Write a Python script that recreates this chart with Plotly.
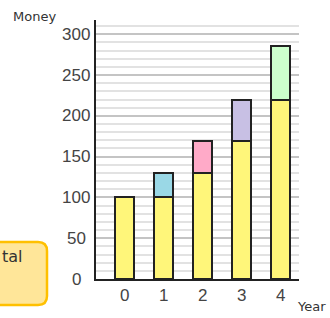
import plotly.graph_objects as go

years = [0, 1, 2, 3, 4]
principal = [100, 100, 130, 169, 219.7]
interest = [None, 30, 39, 50.7, 65.91]
interest_colors = ["#FFF67A", "#9AD8E6", "#FFAAC8", "#C8C0E4", "#CCFFCC"]
y_ticks = [0, 50, 100, 150, 200, 250, 300]

W, H = 330, 318
ML, MR, MT, MB = 96, 31, 20, 39
PW, PH = W - ML - MR, H - MT - MB

def px(x):
    return (x - ML) / PW

def py(y):
    return (H - MB - y) / PH

fig = go.Figure()
fig.add_trace(go.Bar(x=years, y=principal, marker=dict(color="#FFF67A", line=dict(color="#222", width=2)),
                     width=0.5, hoverinfo="skip"))
fig.add_trace(go.Bar(x=years, y=interest, marker=dict(color=interest_colors, line=dict(color="#222", width=2)),
                     width=0.5, hoverinfo="skip"))

# rounded legend-like box on the left (partially off canvas)
x0, x1, y0, y1, r = -20, 47, 242, 305, 9
path = (f"M {px(x0)},{py(y0)} L {px(x1 - r)},{py(y0)} Q {px(x1)},{py(y0)} {px(x1)},{py(y0 + r)} "
        f"L {px(x1)},{py(y1 - r)} Q {px(x1)},{py(y1)} {px(x1 - r)},{py(y1)} L {px(x0)},{py(y1)} Z")
fig.add_shape(type="path", path=path, xref="paper", yref="paper",
              fillcolor="#FFE699", line=dict(color="#FFC000", width=2.5), layer="above")

annotations = [
    dict(text="Money", x=px(11), y=py(16), xanchor="left", yanchor="middle", size=13),
    dict(text="Year", x=px(295), y=py(306), xanchor="left", yanchor="middle", size=13),
    dict(text="tal", x=px(0), y=py(256), xanchor="left", yanchor="middle", size=16),
]
for a in annotations:
    s = a.pop("size")
    a.update(xref="paper", yref="paper", showarrow=False,
             font=dict(family="DejaVu Sans", size=s, color="#333"))
for t in y_ticks:
    annotations.append(dict(text=str(t), x=px(76), y=t, xref="paper", yref="y", xanchor="center",
                            yanchor="middle", showarrow=False,
                            font=dict(family="Liberation Sans", size=17, color="#444")))

fig.update_layout(
    width=W, height=H, margin=dict(l=ML, r=MR, t=MT, b=MB),
    barmode="stack", showlegend=False, bargap=0.5,
    plot_bgcolor="white", paper_bgcolor="white",
    annotations=annotations,
    xaxis=dict(range=[-0.735, 4.47], tickvals=years, ticktext=[str(v) for v in years],
               showgrid=False, zeroline=False, showline=True, linecolor="#222", linewidth=2,
               ticks="", tickfont=dict(family="Liberation Sans", size=17, color="#444")),
    yaxis=dict(range=[0, 317.5], tickvals=y_ticks, showticklabels=False, showgrid=True,
               gridcolor="#C4C4C4", gridwidth=2, zeroline=False, showline=True,
               linecolor="#222", linewidth=2, ticks="",
               minor=dict(dtick=10, showgrid=True, gridcolor="#E2E2E2", gridwidth=2)),
)

fig.write_html("out.html", config={"displayModeBar": False},
               post_script="document.body.style.margin='0';document.body.style.overflow='hidden';")
